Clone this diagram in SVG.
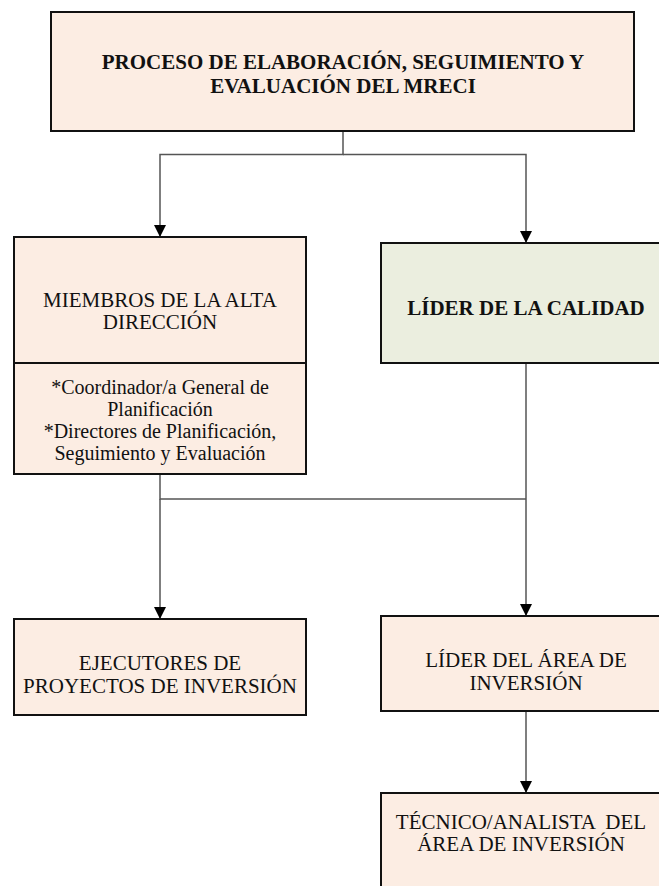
<svg xmlns="http://www.w3.org/2000/svg" width="659" height="886" viewBox="0 0 659 886">
<defs>
<style>
.box{fill:#FCEDE3;stroke:#111;stroke-width:2}
.green{fill:#EBEEDF;stroke:#111;stroke-width:2}
.t{font-family:"Liberation Serif","Times New Roman",serif;font-size:21px;fill:#111;text-anchor:middle}
.s{font-size:20px}
.b{font-weight:bold}
.c{fill:none;stroke:#555;stroke-width:1.5}
</style>
<marker id="arr" viewBox="0 0 12 12" refX="12" refY="6" markerWidth="12" markerHeight="12" markerUnits="userSpaceOnUse" orient="auto">
<path d="M0,0 L12,6 L0,12 Z" fill="#000"/>
</marker>
</defs>
<rect width="659" height="886" fill="#fff"/>
<g id="connectors">
<path class="c" d="M343,131 V154.5 H160 V237" marker-end="url(#arr)"/>
<path class="c" d="M343,154.5 H526 V243" marker-end="url(#arr)"/>
<path class="c" d="M160,474 V499 H526"/>
<path class="c" d="M160,499 V619" marker-end="url(#arr)"/>
<path class="c" d="M526,363 V616" marker-end="url(#arr)"/>
<path class="c" d="M526,711 V793" marker-end="url(#arr)"/>
</g>
<g id="proceso">
<rect class="box" x="51" y="12" width="583" height="119"/>
<text class="t b" x="343" y="69">PROCESO DE ELABORACIÓN, SEGUIMIENTO Y</text>
<text class="t b" x="343" y="93">EVALUACIÓN DEL MRECI</text>
</g>
<g id="miembros">
<rect class="box" x="14" y="237" width="292" height="237"/>
<line x1="14" y1="363" x2="306" y2="363" stroke="#111" stroke-width="2"/>
<text class="t" x="160" y="307">MIEMBROS DE LA ALTA</text>
<text class="t" x="160" y="329">DIRECCIÓN</text>
<text class="t s" x="160" y="394">*Coordinador/a General de</text>
<text class="t s" x="160" y="416">Planificación</text>
<text class="t s" x="160" y="438">*Directores de Planificación,</text>
<text class="t s" x="160" y="460">Seguimiento y Evaluación</text>
</g>
<g id="lider-calidad">
<rect class="green" x="381" y="243" width="290" height="120"/>
<text class="t b" x="526" y="315">LÍDER DE LA CALIDAD</text>
</g>
<g id="ejecutores">
<rect class="box" x="14" y="619" width="292" height="96"/>
<text class="t" x="160" y="670">EJECUTORES DE</text>
<text class="t" x="160" y="693">PROYECTOS DE INVERSIÓN</text>
</g>
<g id="lider-area">
<rect class="box" x="381" y="616" width="290" height="95"/>
<text class="t" x="526" y="667">LÍDER DEL ÁREA DE</text>
<text class="t" x="526" y="690">INVERSIÓN</text>
</g>
<g id="tecnico">
<rect class="box" x="381" y="793" width="290" height="110"/>
<text class="t" x="521" y="829" xml:space="preserve">TÉCNICO/ANALISTA  DEL</text>
<text class="t" x="521" y="851">ÁREA DE INVERSIÓN</text>
</g>
</svg>
